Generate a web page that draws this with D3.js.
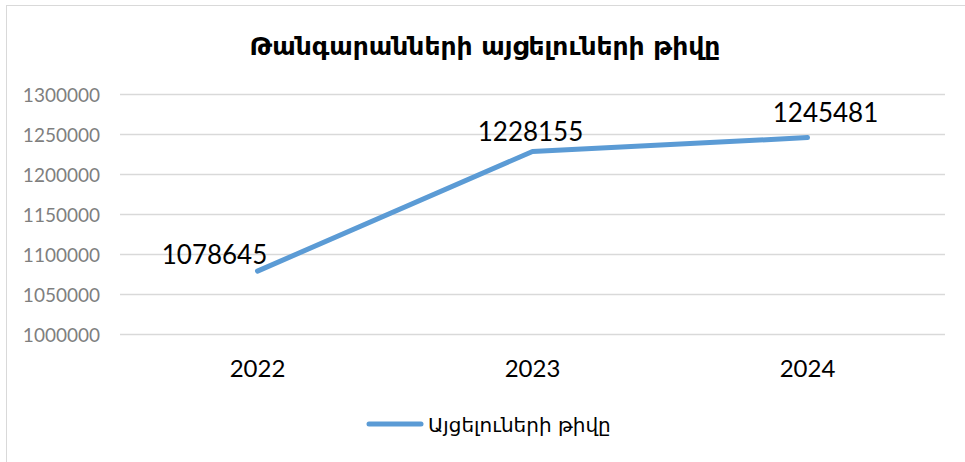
<!DOCTYPE html>
<html><head><meta charset="utf-8">
<script src="https://cdn.jsdelivr.net/npm/d3@7"></script>
<style>body{margin:0;background:#fff}svg{display:block}</style>
</head><body>
<svg id="c" width="965" height="462"></svg>
<script>
const title = "Թանգարանների այցելուների թիվը";
const seriesName = "Այցելուների թիվը";
const categories = ["2022", "2023", "2024"];
const values = [1078645, 1228155, 1245481];
const yTicks = [1000000, 1050000, 1100000, 1150000, 1200000, 1250000, 1300000];

(function () {
const svg = d3.select("#c");
const armFont = "'DejaVu Sans', sans-serif";
const numFont = "Lato, 'Open Sans', sans-serif";

svg.append("rect").attr("x", 6.5).attr("y", 5.5).attr("width", 970).attr("height", 470)
  .attr("fill", "#fff").attr("stroke", "#d9d9d9").attr("stroke-width", 1);

const mLeft = 120, mRight = 945, mTop = 94, mBottom = 334;
const x = d3.scaleBand().domain(categories).range([mLeft, mRight]);
const y = d3.scaleLinear().domain([1000000, 1300000]).range([mBottom, mTop]);

svg.append("text").attr("x", 485).attr("y", 55).attr("text-anchor", "middle")
  .attr("font-family", armFont).attr("font-weight", "bold").attr("font-size", 25)
  .attr("fill", "#000").text(title);

const grid = svg.append("g");
grid.selectAll("line").data(yTicks).join("line")
  .attr("x1", mLeft).attr("x2", mRight)
  .attr("y1", d => Math.round(y(d)) + 0.5).attr("y2", d => Math.round(y(d)) + 0.5)
  .attr("stroke", "#d9d9d9").attr("stroke-width", 1.5);

const yAxis = d3.axisLeft(y).tickValues(yTicks).tickSize(0).tickPadding(20).tickFormat(d3.format("d"));
const ya = svg.append("g").attr("transform", `translate(${mLeft},0)`).call(yAxis);
ya.select(".domain").remove();
ya.selectAll("text").attr("font-family", numFont).attr("font-size", 19).attr("fill", "#7f7f7f")
  .attr("dy", "0.4em");

const xAxis = d3.axisBottom(x).tickSize(0).tickPadding(26);
const xa = svg.append("g").attr("transform", `translate(0,${mBottom})`).call(xAxis);
xa.select(".domain").remove();
xa.selectAll("text").attr("font-family", numFont).attr("font-size", 24).attr("fill", "#000");

const cx = d => x(d) + x.bandwidth() / 2;
const line = d3.line().x((d, i) => cx(categories[i])).y(d => y(d));
svg.append("path").datum(values).attr("d", line)
  .attr("fill", "none").attr("stroke", "#5b9bd5").attr("stroke-width", 5)
  .attr("stroke-linecap", "round").attr("stroke-linejoin", "round");

const lblDx = [-43, -2, 18];
const lblDy = [-7, -10, -16];
svg.selectAll(".lbl").data(values).join("text").attr("class", "lbl")
  .attr("x", (d, i) => cx(categories[i]) + lblDx[i]).attr("y", (d, i) => y(d) + lblDy[i])
  .attr("text-anchor", "middle").attr("font-family", numFont).attr("font-size", 26)
  .attr("fill", "#000").text(d => d);

const lg = svg.append("g");
lg.append("line").attr("x1", 369).attr("x2", 421).attr("y1", 424).attr("y2", 424)
  .attr("stroke", "#5b9bd5").attr("stroke-width", 5).attr("stroke-linecap", "round");
lg.append("text").attr("x", 428).attr("y", 432).attr("font-family", armFont)
  .attr("font-size", 20).attr("fill", "#000").text(seriesName);
})();
</script>
</body></html>
